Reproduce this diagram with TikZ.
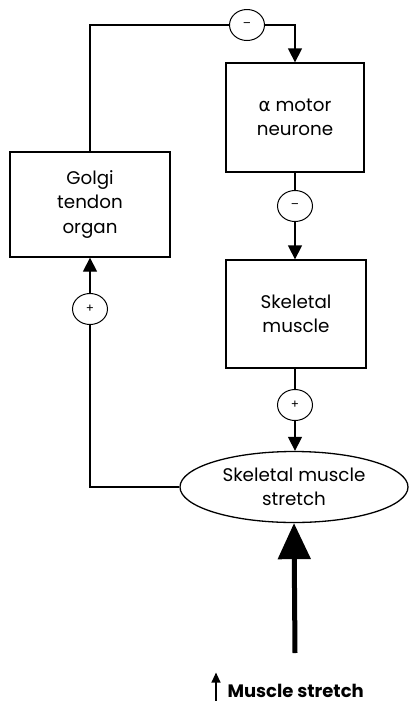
\documentclass[tikz,border=0pt]{standalone}
\usepackage{fontspec}
\setmainfont{Poppins}
\newfontfamily\greekfont{DejaVu Sans}
\usetikzlibrary{positioning, arrows.meta, shapes.geometric}

\begin{document}
\begin{tikzpicture}[
  x=1pt, y=-1pt,
  every node/.style={font=\fontsize{18.3}{24.5}\selectfont, align=center},
  box/.style={draw, line width=1.3pt, inner sep=0pt},
  sign/.style={draw, ellipse, line width=1pt, minimum width=35pt,
               minimum height=31pt, inner sep=0pt,
               font=\fontsize{12}{12}\selectfont},
  link/.style={line width=1.3pt},
  >={Triangle[length=14pt, width=14pt]},
]
  \useasboundingbox (0,0) rectangle (408,705);

  % Boxes
  \node[box, minimum width=138pt, minimum height=109pt] (alpha) at (295,117.5) {{\greekfont α} motor\\neurone};
  \node[box, minimum width=160pt, minimum height=105pt] (golgi) at (90,204.5) {Golgi\\tendon\\organ};
  \node[box, minimum width=140pt, minimum height=108pt] (muscle) at (296,314) {Skeletal\\muscle};

  % Stretch ellipse
  \node[draw, ellipse, line width=1.3pt, minimum width=228pt, minimum height=71pt,
        inner sep=0pt] (stretch) at (294,487) {Skeletal muscle\\stretch};

  % Signs
  \node[sign] (m1) at (247,25) {--};
  \node[sign] (m2) at (295,206) {--};
  \node[sign] (p1) at (295,405) {+};
  \node[sign] (p2) at (90,309) {+};

  % Arrows
  \draw[link] (golgi.north) |- (m1.west);
  \draw[link, ->] (m1.east) -| (alpha.north);
  \draw[link] (alpha.south) -- (m2.north);
  \draw[link, ->] (m2.south) -- (m2.south |- muscle.north);
  \draw[link] (p1.north |- muscle.south) -- (p1.north);
  \draw[link, ->] (p1.south) -- (p1.south |- stretch.north);
  \draw[link] (stretch.west) -| (p2.south);
  \draw[link, ->] (p2.north) -- (golgi.south);

  % Input
  \coordinate (src) at (295,653);
  \draw[line width=5pt, -{Triangle[length=36pt, width=32pt]}] (src) -- (stretch.south);
  \node[anchor=west, font=\fontsize{18}{20}\selectfont\bfseries] (lbl) at (224,691) {Muscle stretch};
  \draw[line width=1.2pt, -{Triangle[length=10pt, width=9pt]}] ([xshift=-8pt]lbl.base west) ++(0,3) -- ++(0,-28);
\end{tikzpicture}
\end{document}
